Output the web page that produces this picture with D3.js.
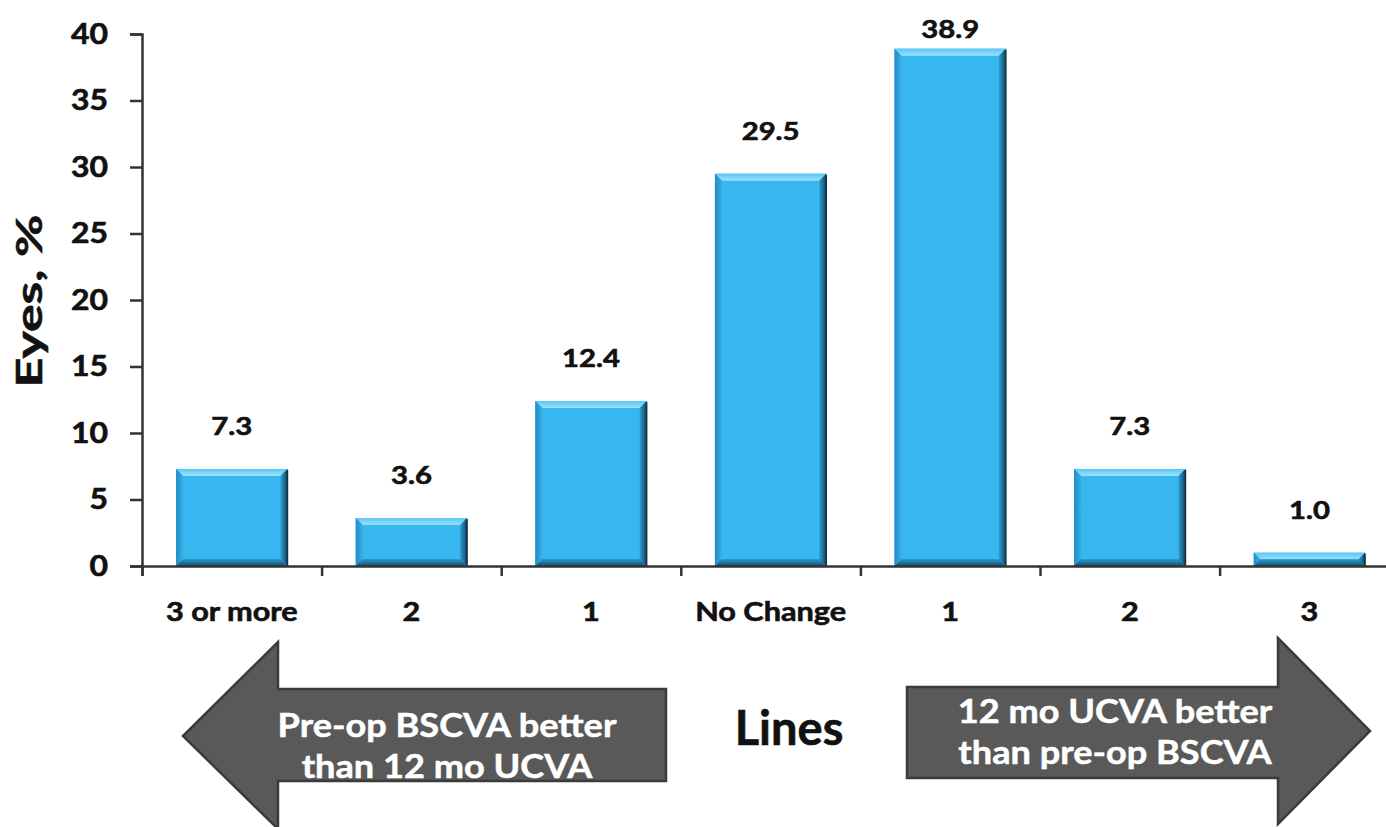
<!DOCTYPE html>
<html>
<head>
<meta charset="utf-8">
<script src="https://cdn.jsdelivr.net/npm/d3@7"></script>
<style>
  html, body { margin: 0; padding: 0; background: #fff; }
  svg { display: block; }
  text { font-family: Lato, "Open Sans", sans-serif; font-weight: 700; fill: #111; stroke: #111; stroke-width: 0.6px; }
</style>
</head>
<body>
<svg id="chart" width="1386" height="827"></svg>
<script>
// Change in lines: 12 mo UCVA vs pre-op BSCVA
const categories = ["3 or more", "2", "1", "No Change", "1", "2", "3"];
const eyesPct = [7.3, 3.6, 12.4, 29.5, 38.9, 7.3, 1.0];
const yTicks = [0, 5, 10, 15, 20, 25, 30, 35, 40];
const yTitle = "Eyes, %";
const xTitle = "Lines";
const leftArrowText = ["Pre-op BSCVA better", "than 12 mo UCVA"];
const rightArrowText = ["12 mo UCVA better", "than pre-op BSCVA"];

const svg = d3.select("#chart");

const plot = { left: 142, top: 34, bottom: 566, step: 179.6 };
const xRight = plot.left + plot.step * categories.length;

const x = d3.scaleBand()
  .domain(d3.range(categories.length))
  .range([plot.left, xRight])
  .paddingInner(0.38)
  .paddingOuter(0.19);

const xEdges = d3.scaleLinear().domain([0, categories.length]).range([plot.left, xRight]);

const y = d3.scaleLinear().domain([0, 40]).range([plot.bottom, plot.top]);

// Wide-set lettering: glyphs stretched horizontally about their anchor
const wide = (sx, tx = 0, ty = 0) => `translate(${tx},${ty}) scale(${sx},1)`;

const defs = svg.append("defs");
const grad = (id, x2, y2, stops) => {
  const g = defs.append("linearGradient").attr("id", id)
    .attr("x1", 0).attr("y1", 0).attr("x2", x2).attr("y2", y2);
  stops.forEach(([o, c]) => g.append("stop").attr("offset", o).attr("stop-color", c));
};
grad("bevTop", 0, 1, [[0, "#5cc6f4"], [1, "#9be1fc"]]);
grad("bevRight", 1, 0, [[0, "#2a9fd6"], [0.55, "#1d6f98"], [1, "#123a50"]]);
grad("bevLeft", 1, 0, [[0, "#1f8cc2"], [1, "#36b0e8"]]);
grad("bevBottom", 0, 1, [[0, "#2a9ad0"], [1, "#16506e"]]);

// Bars with a bevelled edge
const bev = 7;
svg.append("g").selectAll("g.bar")
  .data(eyesPct)
  .join("g").attr("class", "bar")
  .each(function(v, i) {
    const g = d3.select(this);
    const x0 = x(i), x1 = x(i) + x.bandwidth();
    const y0 = y(v), y1 = y(0);
    const b = Math.min(bev, (y1 - y0) / 2);
    g.append("rect").attr("x", x0).attr("y", y0).attr("width", x1 - x0).attr("height", y1 - y0)
      .attr("fill", "#37b6f0");
    const poly = (pts, fill) => g.append("polygon").attr("points", pts.map(p => p.join(",")).join(" ")).attr("fill", fill);
    poly([[x0, y0], [x1, y0], [x1 - b, y0 + b], [x0 + b, y0 + b]], "url(#bevTop)");
    poly([[x0, y0], [x0 + b, y0 + b], [x0 + b, y1 - b], [x0, y1]], "url(#bevLeft)");
    poly([[x1, y0], [x1, y1], [x1 - b, y1 - b], [x1 - b, y0 + b]], "url(#bevRight)");
    poly([[x0, y1], [x0 + b, y1 - b], [x1 - b, y1 - b], [x1, y1]], "url(#bevBottom)");
    g.append("line").attr("x1", x1).attr("x2", x1).attr("y1", y0 + 1).attr("y2", y1)
      .attr("stroke", "#163445").attr("stroke-width", 1.5);
  });

// Value labels
svg.append("g").selectAll("text")
  .data(eyesPct)
  .join("text")
  .attr("transform", (d, i) => wide(1.22, x(i) + x.bandwidth() / 2, Math.max(y(d) - 34, 38)))
  .attr("text-anchor", "middle")
  .attr("font-size", 24)
  .text(d => d.toFixed(1));

// Y axis
const yAxis = svg.append("g")
  .attr("transform", `translate(${plot.left},0)`)
  .call(d3.axisLeft(y).tickValues(yTicks).tickSize(12).tickPadding(22));
yAxis.select(".domain").attr("stroke", "#333").attr("stroke-width", 2.5);
yAxis.selectAll(".tick line").attr("stroke", "#333").attr("stroke-width", 2.5);
yAxis.selectAll(".tick text")
  .attr("x", 0)
  .attr("transform", wide(1.1, -34, 0))
  .attr("font-size", 29).attr("fill", "#111")
  .attr("font-family", "Lato, sans-serif").attr("font-weight", 700);

// X axis: tick marks between categories, labels under each band
const xAxisMarks = svg.append("g")
  .attr("transform", `translate(0,${plot.bottom})`)
  .call(d3.axisBottom(xEdges).ticks(categories.length).tickSize(10).tickFormat(""));
xAxisMarks.select(".domain").attr("stroke", "#333").attr("stroke-width", 2.5);
xAxisMarks.selectAll(".tick line").attr("stroke", "#333").attr("stroke-width", 2.5);

const xAxisLabels = svg.append("g")
  .attr("transform", `translate(0,${plot.bottom})`)
  .call(d3.axisBottom(x).tickSize(0).tickPadding(37).tickFormat(i => categories[i]));
xAxisLabels.select(".domain").remove();
xAxisLabels.selectAll(".tick text")
  .attr("transform", wide(1.18))
  .attr("font-size", 26).attr("fill", "#111")
  .attr("font-family", "Lato, sans-serif").attr("font-weight", 700);

// Axis titles
svg.append("text")
  .attr("transform", `translate(42,301) rotate(-90) scale(1.4,1)`)
  .attr("text-anchor", "middle")
  .attr("font-size", 37)
  .text(yTitle);

svg.append("text")
  .attr("transform", wide(1.0, 789, 745))
  .attr("text-anchor", "middle")
  .attr("font-size", 47)
  .text(xTitle);

// Direction arrows
const arrowFill = "#595959", arrowStroke = "#3b3b3b";
const leftArrow = [[183, 736], [278, 642], [278, 689], [666, 689], [666, 781], [278, 781], [278, 829]];
const rightArrow = [[907, 687], [1278, 687], [1278, 638], [1370, 731], [1278, 824], [1278, 778], [907, 778]];
[leftArrow, rightArrow].forEach(pts => {
  svg.append("path")
    .attr("d", d3.line()(pts) + "Z")
    .attr("fill", arrowFill).attr("stroke", arrowStroke).attr("stroke-width", 2.5);
});

const arrowLabel = (lines, cx, y0) => {
  lines.forEach((s, k) => {
    svg.append("text")
      .attr("transform", wide(1.13, cx, y0 + k * 41))
      .attr("text-anchor", "middle").attr("font-size", 32)
      .style("fill", "#fff").style("stroke", "#fff").style("stroke-width", "0.5px")
      .text(s);
  });
};
arrowLabel(leftArrowText, 447, 737);
arrowLabel(rightArrowText, 1115, 723);
</script>
</body>
</html>
